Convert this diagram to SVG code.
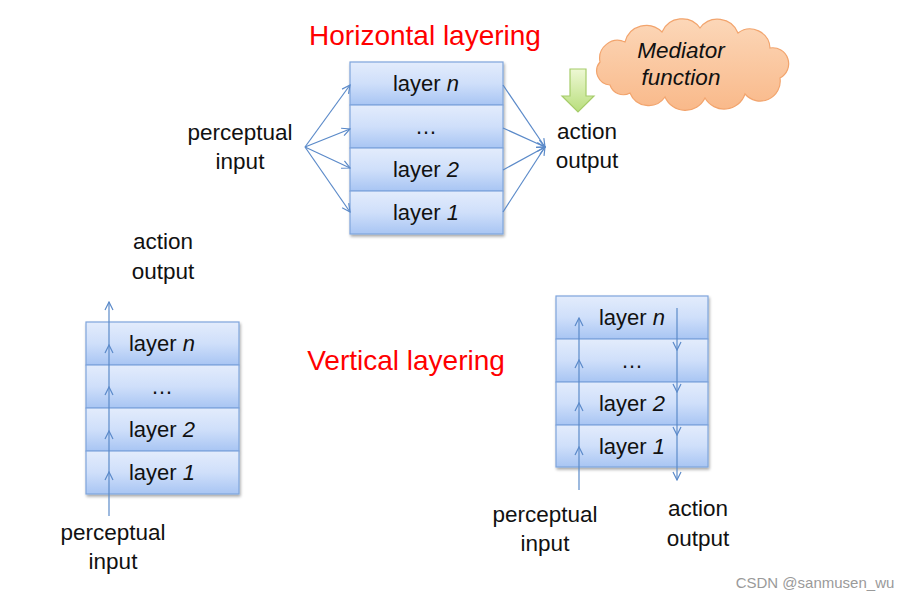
<svg xmlns="http://www.w3.org/2000/svg" width="914" height="600" viewBox="0 0 914 600">
<defs>
<linearGradient id="rowg" x1="0" y1="0" x2="0" y2="1">
<stop offset="0" stop-color="#e3ecfc"/>
<stop offset="0.5" stop-color="#cfdffa"/>
<stop offset="1" stop-color="#a8c5f3"/>
</linearGradient>
<linearGradient id="greeng" x1="0" y1="0" x2="0" y2="1">
<stop offset="0" stop-color="#eef8d4"/>
<stop offset="1" stop-color="#b8de7c"/>
</linearGradient>
<linearGradient id="cloudg" x1="0" y1="0" x2="0" y2="1">
<stop offset="0" stop-color="#fcd7b8"/>
<stop offset="1" stop-color="#f9b98a"/>
</linearGradient>
<filter id="sh" x="-10%" y="-10%" width="130%" height="130%">
<feGaussianBlur in="SourceAlpha" stdDeviation="1.5"/>
<feOffset dx="1" dy="2" result="b"/>
<feComponentTransfer><feFuncA type="linear" slope="0.35"/></feComponentTransfer>
<feMerge><feMergeNode/><feMergeNode in="SourceGraphic"/></feMerge>
</filter>
<marker id="chev" viewBox="0 0 10 10" refX="9" refY="5" markerWidth="10" markerHeight="10" markerUnits="userSpaceOnUse" orient="auto">
<path d="M1,1 L9,5 L1,9" fill="none" stroke="#5b8ac9" stroke-width="1.2"/>
</marker>
</defs>
<style>
.row{fill:url(#rowg);stroke:#7fa5dc;stroke-width:1.2}
.lt{font-family:"Liberation Sans",Arial,sans-serif;font-size:22px;fill:#111;text-anchor:middle}
.lbl{font-family:"Liberation Sans",Arial,sans-serif;font-size:22.5px;fill:#111;text-anchor:middle}
.title{font-family:"Liberation Sans",Arial,sans-serif;font-size:28px;fill:#ff0000;text-anchor:middle}
.con{fill:none;stroke:#5b8ac9;stroke-width:1.2}
.it{font-style:italic}
</style>
<rect width="914" height="600" fill="#ffffff"/>

<text class="title" x="425" y="45">Horizontal layering</text>
<text class="title" x="406" y="370">Vertical layering</text>

<g id="h-stack" filter="url(#sh)">
<rect class="row" x="350" y="62" width="153" height="43"/>
<rect class="row" x="350" y="105" width="153" height="43"/>
<rect class="row" x="350" y="148" width="153" height="43"/>
<rect class="row" x="350" y="191" width="153" height="43"/>
</g>
<g id="h-text">
<text class="lt" x="426" y="91">layer <tspan class="it">n</tspan></text>
<text class="lt" x="426" y="134">…</text>
<text class="lt" x="426" y="177">layer <tspan class="it">2</tspan></text>
<text class="lt" x="426" y="220">layer <tspan class="it">1</tspan></text>
</g>

<g id="h-input"><text class="lbl" x="240" y="140">perceptual</text><text class="lbl" x="240" y="169">input</text></g>
<g id="h-output"><text class="lbl" x="587" y="139">action</text><text class="lbl" x="587" y="168">output</text></g>

<g id="mediator">
<path d="M 610 85 A 14 14 0 0 1 600 62 A 18 18 0 0 1 625 42 A 22 22 0 0 1 662 32 A 22 22 0 0 1 700 28 A 22 22 0 0 1 738 33 A 20 20 0 0 1 770 48 A 16 16 0 0 1 780 78 A 20 20 0 0 1 745 94 A 22 22 0 0 1 705 98 A 22 22 0 0 1 665 97 A 20 20 0 0 1 630 93 A 14 14 0 0 1 610 85 Z" fill="url(#cloudg)" stroke="#f2a46d" stroke-width="1.2"/>
<text class="lbl it" x="681" y="58" font-size="20">Mediator</text>
<text class="lbl it" x="681" y="85" font-size="20">function</text>
</g>

<g id="green-arrow">
<path d="M570,69 L586,69 L586,96 L594,96 L578,112 L562,96 L570,96 Z" fill="url(#greeng)" stroke="#a6cc6a" stroke-width="1.2"/>
</g>

<g id="vl-stack" filter="url(#sh)">
<rect class="row" x="86" y="322" width="153" height="43"/>
<rect class="row" x="86" y="365" width="153" height="43"/>
<rect class="row" x="86" y="408" width="153" height="43"/>
<rect class="row" x="86" y="451" width="153" height="43"/>
</g>
<g id="vl-text">
<text class="lt" x="162" y="351">layer <tspan class="it">n</tspan></text>
<text class="lt" x="162" y="394">…</text>
<text class="lt" x="162" y="437">layer <tspan class="it">2</tspan></text>
<text class="lt" x="162" y="480">layer <tspan class="it">1</tspan></text>
</g>
<g id="vl-output"><text class="lbl" x="163" y="249">action</text><text class="lbl" x="163" y="279">output</text></g>
<g id="vl-input"><text class="lbl" x="113" y="540">perceptual</text><text class="lbl" x="113" y="569">input</text></g>

<g id="vr-stack" filter="url(#sh)">
<rect class="row" x="556" y="296" width="152" height="43"/>
<rect class="row" x="556" y="339" width="152" height="43"/>
<rect class="row" x="556" y="382" width="152" height="43"/>
<rect class="row" x="556" y="425" width="152" height="42"/>
</g>
<g id="vr-text">
<text class="lt" x="632" y="325">layer <tspan class="it">n</tspan></text>
<text class="lt" x="632" y="368">…</text>
<text class="lt" x="632" y="411">layer <tspan class="it">2</tspan></text>
<text class="lt" x="632" y="454">layer <tspan class="it">1</tspan></text>
</g>
<g id="vr-input"><text class="lbl" x="545" y="522">perceptual</text><text class="lbl" x="545" y="551">input</text></g>
<g id="vr-output"><text class="lbl" x="698" y="516">action</text><text class="lbl" x="698" y="546">output</text></g>

<g id="connectors">
<line class="con" x1="305" y1="147" x2="350" y2="85" marker-end="url(#chev)"/>
<line class="con" x1="305" y1="147" x2="350" y2="129" marker-end="url(#chev)"/>
<line class="con" x1="305" y1="147" x2="350" y2="168" marker-end="url(#chev)"/>
<line class="con" x1="305" y1="147" x2="350" y2="212" marker-end="url(#chev)"/>
<line class="con" x1="503" y1="85" x2="545" y2="147" marker-end="url(#chev)"/>
<line class="con" x1="503" y1="128" x2="545" y2="147" marker-end="url(#chev)"/>
<line class="con" x1="503" y1="170" x2="545" y2="147" marker-end="url(#chev)"/>
<line class="con" x1="503" y1="212" x2="545" y2="147" marker-end="url(#chev)"/>
<polyline class="con" points="109,516 109,472 109,431 109,387 109,345 109,302" marker-mid="url(#chev)" marker-end="url(#chev)"/>
<polyline class="con" points="579,490 579,447 579,403 579,360 579,318" marker-mid="url(#chev)" marker-end="url(#chev)"/>
<polyline class="con" points="677,308 677,350 677,392 677,435 677,480" marker-mid="url(#chev)" marker-end="url(#chev)"/>
</g>

<text x="815" y="588" font-family="Liberation Sans,Arial,sans-serif" font-size="15" fill="#9a9a9a" text-anchor="middle">CSDN @sanmusen_wu</text>
</svg>
